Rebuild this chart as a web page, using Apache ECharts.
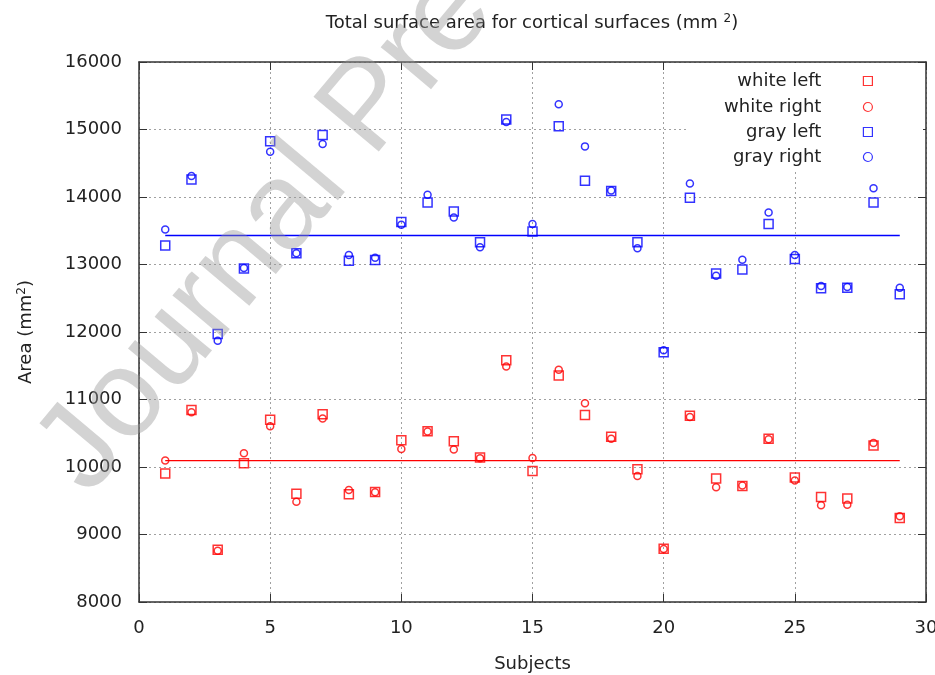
<!DOCTYPE html>
<html>
<head>
<meta charset="utf-8">
<title>Total surface area</title>
<script src="https://cdn.jsdelivr.net/npm/echarts@6/dist/echarts.min.js"></script>
<style>
    html, body { margin: 0; padding: 0; background: #fff; }
    #chart { width: 935px; height: 675px; }
</style>
</head>
<body>
<div id="chart"></div>
<script>
// 数据
var subjects = [1,2,3,4,5,6,7,8,9,10,11,12,13,14,15,16,17,18,19,20,21,22,23,24,25,26,27,28,29];
var whiteLeft = [9905,10845,8775,10055,10700,9605,10780,9595,9630,10395,10530,10380,10140,11580,9940,
    11355,10770,10450,9965,8790,10760,9830,9720,10420,9845,9555,9535,10320,9245];
var whiteRight = [10095,10810,8760,10205,10605,9485,10720,9660,9625,10265,10525,10260,10130,11490,10135,
    11440,10945,10420,9865,8785,10740,9700,9725,10410,9800,9435,9440,10355,9270];
var grayLeft = [13280,14260,11970,12940,14825,13165,14920,13055,13065,13630,13920,13785,13330,15150,13490,
    15050,14240,14090,13330,11700,13990,12865,12925,13600,13080,12650,12655,13920,12560];
var grayRight = [13520,14310,11870,12950,14670,13165,14785,13140,13100,13590,14035,13695,13255,15110,13600,
    15375,14750,14095,13240,11730,14200,12835,13070,13770,13140,12680,12665,14130,12655];
var meanWhite = 10095, meanGray = 13430;
var seriesNames = ['white left', 'white right', 'gray left', 'gray right'];

var FONT = 'DejaVu Sans';
var RED = '#ff0000', BLUE = '#0000ff';

var pairs = (vals) => subjects.map((s, i) => [s, vals[i]]);
var meanLine = (m) => [[subjects[0], m], [subjects[subjects.length - 1], m]];

var chart = echarts.init(document.getElementById('chart'), null, { renderer: 'canvas' });

function scatter(name, vals, shape, color) {
    return {
        name: name,
        type: 'scatter',
        data: pairs(vals),
        symbol: shape,
        symbolSize: shape == 'rect' ? 9 : 7,
        itemStyle: { color: 'rgba(255,255,255,0)', borderColor: color, borderWidth: 1.5 },
        z: 3
    };
}

function mean(m, color) {
    return {
        type: 'line',
        data: meanLine(m),
        showSymbol: false,
        symbol: 'none',
        lineStyle: { color: color, width: 1.3 },
        silent: true,
        z: 2
    };
}

// 图例：四个右对齐的小图例
var legendTops = [71, 97, 122, 147];
var legends = seriesNames.map((n, i) => ({
    data: [n],
    orient: 'vertical',
    right: 62,
    top: legendTops[i],
    align: 'right',
    padding: 0,
    itemWidth: 9,
    itemHeight: 9,
    selectedMode: false,
    itemStyle: { borderWidth: 1.2 },
    textStyle: { fontFamily: FONT, fontSize: 18, color: '#222', lineHeight: 20, padding: [0, 37, 0, 0] }
}));

var gridLine = { show: true, lineStyle: { color: '#a0a0a0', type: [2, 3], width: 1 } };
var axisLine = { show: true, onZero: false, lineStyle: { color: '#333', width: 1.5 } };
var tick = { show: true, inside: true, length: 8, lineStyle: { color: '#333', width: 1 } };
var supStyle = { fontFamily: FONT, fontSize: 12, color: '#222', verticalAlign: 'top', padding: [0, 0, 8, 0] };

var option = {
    animation: false,
    backgroundColor: '#fff',
    title: {
        text: 'Total surface area for cortical surfaces (mm {sup|2})',
        left: 532,
        top: 13,
        textAlign: 'center',
        padding: 0,
        textStyle: {
            fontFamily: FONT, fontSize: 18, fontWeight: 'normal', color: '#222',
            rich: { sup: supStyle }
        }
    },
    legend: legends,
    grid: { left: 139, right: 9, top: 62, bottom: 73, containLabel: false, outerBoundsMode: 'none' },
    xAxis: [{
        type: 'value', min: 0, max: 30, interval: 5,
        name: 'Subjects', nameLocation: 'middle', nameGap: 53,
        nameTextStyle: { fontFamily: FONT, fontSize: 18, color: '#222' },
        axisLine: axisLine, axisTick: tick, splitLine: gridLine,
        axisLabel: { fontFamily: FONT, fontSize: 18, color: '#222', margin: 17 }
    }, {
        type: 'value', min: 0, max: 30, interval: 5, position: 'top',
        axisLine: axisLine, axisTick: tick, splitLine: { show: false }, axisLabel: { show: false }
    }],
    yAxis: [{
        type: 'value', min: 8000, max: 16000, interval: 1000,
        name: 'Area (mm{sup|2})', nameLocation: 'middle', nameGap: 103,
        nameTextStyle: { fontFamily: FONT, fontSize: 18, color: '#222', rich: { sup: supStyle } },
        axisLine: axisLine, axisTick: tick, splitLine: gridLine,
        axisLabel: { fontFamily: FONT, fontSize: 18, color: '#222', margin: 17, formatter: (v) => String(v) }
    }, {
        type: 'value', min: 8000, max: 16000, interval: 1000, position: 'right',
        axisLine: axisLine, axisTick: tick, splitLine: { show: false }, axisLabel: { show: false }
    }],
    graphic: [
        // 图例的白底
        { type: 'rect', shape: { x: 687, y: 63, width: 236, height: 109 }, style: { fill: '#fff' }, z: 1, silent: true },
        // 水印
        {
            type: 'text', x: 110, y: 515, rotation: 50 * Math.PI / 180, z: 100, silent: true,
            style: { text: 'Journal Pre-proof', fontFamily: 'Liberation Sans', fontSize: 124,
                fill: 'rgba(150,150,150,0.42)', align: 'left', verticalAlign: 'bottom' }
        }
    ],
    series: [
        scatter(seriesNames[0], whiteLeft, 'rect', RED),
        scatter(seriesNames[1], whiteRight, 'circle', RED),
        scatter(seriesNames[2], grayLeft, 'rect', BLUE),
        scatter(seriesNames[3], grayRight, 'circle', BLUE),
        mean(meanWhite, RED),
        mean(meanGray, BLUE)
    ]
};
chart.setOption(option);
</script>
</body>
</html>
